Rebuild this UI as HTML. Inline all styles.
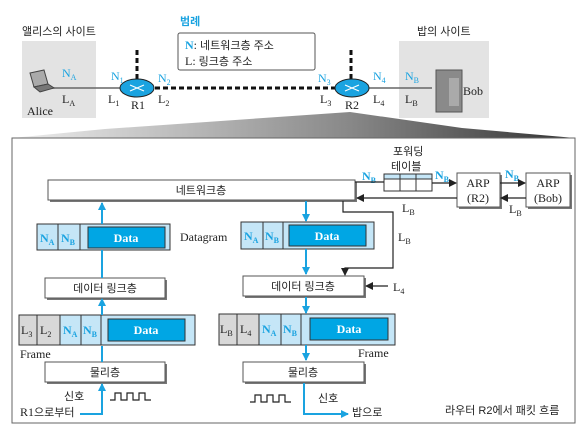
<!DOCTYPE html>
<html><head><meta charset="utf-8"><style>
body{margin:0;background:#fff}
svg{display:block}
text{font-family:"Liberation Serif","Noto Serif CJK SC","Noto Sans CJK KR",serif;font-size:12px;fill:#222}
.k{font-family:"Liberation Sans","Noto Sans CJK KR",sans-serif;font-size:11px}
.b{fill:#1aa3e0}
.bd{font-weight:bold;fill:#1aa3e0}
.s{font-size:8px}
</style></head><body>
<svg width="585" height="436" viewBox="0 0 585 436" xmlns="http://www.w3.org/2000/svg">
<defs>
<linearGradient id="g" x1="0" x2="1" y1="0" y2="0"><stop offset="0" stop-color="#eee"/><stop offset="0.6" stop-color="#888"/><stop offset="1" stop-color="#333"/></linearGradient>
<marker id="ab" markerWidth="8" markerHeight="8" refX="7" refY="4" orient="auto" markerUnits="userSpaceOnUse"><path d="M0,0L8,4L0,8z" fill="#1aa3e0"/></marker>
<marker id="ak" markerWidth="8" markerHeight="8" refX="7" refY="4" orient="auto" markerUnits="userSpaceOnUse"><path d="M0,0L8,4L0,8z" fill="#222"/></marker>
</defs>
<rect x="22" y="41" width="74" height="77" fill="#e3e3e3"/>
<rect x="399" y="41" width="90" height="77" fill="#e3e3e3"/>
<text x="22" y="35" class="k">앨리스의 사이트</text>
<text x="417" y="35" class="k">밥의 사이트</text>
<text x="180" y="25" class="k" style="fill:#1aa3e0;font-weight:bold">범례</text>
<rect x="178" y="33" width="137" height="37" fill="#fff" stroke="#555" rx="2"/>
<text x="185" y="49"><tspan class="bd">N</tspan>: <tspan class="k">네트워크층 주소</tspan></text>
<text x="185" y="65">L: <tspan class="k">링크층 주소</tspan></text>
<line x1="50" y1="88" x2="122" y2="88" stroke="#666" stroke-width="1.5"/>
<line x1="368" y1="88" x2="432" y2="88" stroke="#666" stroke-width="1.5"/>
<line x1="155" y1="88" x2="335" y2="88" stroke="#111" stroke-width="3" stroke-dasharray="5,3"/>
<line x1="137" y1="50" x2="137" y2="80" stroke="#111" stroke-width="3" stroke-dasharray="5,3"/>
<line x1="351" y1="50" x2="351" y2="80" stroke="#111" stroke-width="3" stroke-dasharray="5,3"/>
<ellipse cx="137" cy="88" rx="17" ry="9" fill="#1aa3e0" stroke="#222"/>
<ellipse cx="352" cy="88" rx="17" ry="9" fill="#1aa3e0" stroke="#222"/>
<path d="M130,85l14,6M144,85l-14,6M345,85l14,6M359,85l-14,6" stroke="#fff" stroke-width="1.2"/>
<path d="M30,73l14,-3l4,14l-14,3z" fill="#aaa" stroke="#444"/>
<path d="M34,87l14,-3l6,4l-14,4z" fill="#777" stroke="#444"/>
<rect x="436" y="70" width="26" height="42" fill="#8a8a8a" stroke="#555"/>
<rect x="449" y="78" width="10" height="28" fill="#aaa"/>
<text x="27" y="115">Alice</text>
<text x="463" y="95">Bob</text>
<text x="62" y="77" class="b">N<tspan class="s" dy="3">A</tspan></text>
<text x="62" y="103">L<tspan class="s" dy="3">A</tspan></text>
<text x="111" y="80" class="b">N<tspan class="s" dy="3">1</tspan></text>
<text x="108" y="103">L<tspan class="s" dy="3">1</tspan></text>
<text x="131" y="109">R1</text>
<text x="158" y="82" class="b">N<tspan class="s" dy="3">2</tspan></text>
<text x="158" y="103">L<tspan class="s" dy="3">2</tspan></text>
<text x="318" y="82" class="b">N<tspan class="s" dy="3">3</tspan></text>
<text x="320" y="103">L<tspan class="s" dy="3">3</tspan></text>
<text x="345" y="109">R2</text>
<text x="373" y="80" class="b">N<tspan class="s" dy="3">4</tspan></text>
<text x="373" y="103">L<tspan class="s" dy="3">4</tspan></text>
<text x="405" y="80" class="b">N<tspan class="s" dy="3">B</tspan></text>
<text x="405" y="103">L<tspan class="s" dy="3">B</tspan></text>
<polygon points="350,112 105,129 12,138 575,138 462,128" fill="url(#g)"/>
<rect x="12" y="138" width="563" height="285" fill="#fff" stroke="#666"/>
<g stroke="#555" fill="#fff">
<rect x="50" y="182" width="307" height="20" fill="#777" stroke="none"/>
<rect x="48" y="180" width="307" height="20"/>
<rect x="47" y="280" width="120" height="20" fill="#777" stroke="none"/>
<rect x="45" y="278" width="120" height="20"/>
<rect x="245" y="278" width="121" height="20" fill="#777" stroke="none"/>
<rect x="243" y="276" width="121" height="20"/>
<rect x="47" y="364" width="120" height="20" fill="#777" stroke="none"/>
<rect x="45" y="362" width="120" height="20"/>
<rect x="245" y="364" width="121" height="20" fill="#777" stroke="none"/>
<rect x="243" y="362" width="121" height="20"/>
<rect x="459" y="175" width="43" height="34" fill="#777" stroke="none"/>
<rect x="457" y="173" width="43" height="34"/>
<rect x="528" y="175" width="44" height="34" fill="#777" stroke="none"/>
<rect x="526" y="173" width="44" height="34"/>
</g>
<text x="201" y="194" class="k" text-anchor="middle">네트워크층</text>
<text x="105" y="292" class="k" text-anchor="middle">데이터 링크층</text>
<text x="303" y="290" class="k" text-anchor="middle">데이터 링크층</text>
<text x="105" y="376" class="k" text-anchor="middle">물리층</text>
<text x="303" y="376" class="k" text-anchor="middle">물리층</text>
<text x="478" y="187" text-anchor="middle">ARP</text><text x="478" y="202" text-anchor="middle">(R2)</text>
<text x="548" y="187" text-anchor="middle">ARP</text><text x="548" y="202" text-anchor="middle">(Bob)</text>
<g stroke="#333">
<rect x="37" y="224" width="133" height="26" fill="#c5e6f7"/>
<line x1="58" y1="224" x2="58" y2="250"/><line x1="80" y1="224" x2="80" y2="250"/>
<rect x="88" y="227" width="77" height="21" fill="#00a6e4"/>
<rect x="241" y="222" width="133" height="27" fill="#c5e6f7"/>
<line x1="263" y1="222" x2="263" y2="249"/><line x1="283" y1="222" x2="283" y2="249"/>
<rect x="289" y="225" width="77" height="21" fill="#00a6e4"/>
<rect x="19" y="315" width="176" height="30" fill="#c5e6f7"/>
<rect x="19" y="315" width="41" height="30" fill="#d8d8d8"/>
<line x1="37" y1="315" x2="37" y2="345"/><line x1="81" y1="315" x2="81" y2="345"/><line x1="101" y1="315" x2="101" y2="345"/>
<rect x="108" y="319" width="77" height="22" fill="#00a6e4"/>
<rect x="219" y="314" width="176" height="31" fill="#c5e6f7"/>
<rect x="219" y="314" width="40" height="31" fill="#d8d8d8"/>
<line x1="237" y1="314" x2="237" y2="345"/><line x1="281" y1="314" x2="281" y2="345"/><line x1="301" y1="314" x2="301" y2="345"/>
<rect x="310" y="318" width="78" height="22" fill="#00a6e4"/>
<rect x="384" y="174" width="48" height="17" fill="#fff"/>
<rect x="384" y="174" width="48" height="5" fill="#c5e6f7"/>
<line x1="400" y1="174" x2="400" y2="191"/><line x1="416" y1="174" x2="416" y2="191"/>
</g>
<g style="font-weight:bold" text-anchor="middle">
<text x="126" y="242" style="fill:#fff">Data</text>
<text x="327" y="240" style="fill:#fff">Data</text>
<text x="146" y="334" style="fill:#fff">Data</text>
<text x="349" y="333" style="fill:#fff">Data</text>
</g>
<g>
<text x="40" y="242" class="b" style="font-weight:bold">N<tspan class="s" dy="3">A</tspan></text>
<text x="61" y="242" class="b" style="font-weight:bold">N<tspan class="s" dy="3">B</tspan></text>
<text x="244" y="240" class="b" style="font-weight:bold">N<tspan class="s" dy="3">A</tspan></text>
<text x="265" y="240" class="b" style="font-weight:bold">N<tspan class="s" dy="3">B</tspan></text>
<text x="63" y="334" class="b" style="font-weight:bold">N<tspan class="s" dy="3">A</tspan></text>
<text x="83" y="334" class="b" style="font-weight:bold">N<tspan class="s" dy="3">B</tspan></text>
<text x="262" y="333" class="b" style="font-weight:bold">N<tspan class="s" dy="3">A</tspan></text>
<text x="283" y="333" class="b" style="font-weight:bold">N<tspan class="s" dy="3">B</tspan></text>
<text x="362" y="180" class="b" style="font-weight:bold">N<tspan class="s" dy="3">B</tspan></text>
<text x="435" y="179" class="b" style="font-weight:bold">N<tspan class="s" dy="3">B</tspan></text>
<text x="505" y="178" class="b" style="font-weight:bold">N<tspan class="s" dy="3">B</tspan></text>
</g>
<text x="21" y="334">L<tspan class="s" dy="3">3</tspan></text>
<text x="40" y="334">L<tspan class="s" dy="3">2</tspan></text>
<text x="220" y="333">L<tspan class="s" dy="3">B</tspan></text>
<text x="240" y="333">L<tspan class="s" dy="3">4</tspan></text>
<text x="180" y="241">Datagram</text>
<text x="20" y="358">Frame</text>
<text x="358" y="357">Frame</text>
<text x="393" y="155" class="k">포워딩</text>
<text x="391" y="170" class="k">테이블</text>
<text x="402" y="212">L<tspan class="s" dy="3">B</tspan></text>
<text x="509" y="213">L<tspan class="s" dy="3">B</tspan></text>
<text x="398" y="241">L<tspan class="s" dy="3">B</tspan></text>
<text x="393" y="291">L<tspan class="s" dy="3">4</tspan></text>
<text x="64" y="400" class="k">신호</text>
<text x="318" y="402" class="k">신호</text>
<text x="20" y="416">R1<tspan class="k">으로부터</tspan></text>
<text x="352" y="416" class="k">밥으로</text>
<text x="445" y="414" class="k">라우터 R2에서 패킷 흐름</text>
<g stroke="#1aa3e0" stroke-width="2" fill="none">
<path d="M102,224V203" marker-end="url(#ab)"/>
<path d="M102,278V250"/>
<path d="M102,315V299" marker-end="url(#ab)"/>
<path d="M102,362V346"/>
<path d="M80,414H102V384" marker-end="url(#ab)"/>
<path d="M306,201V221" marker-end="url(#ab)"/>
<path d="M306,249V274" marker-end="url(#ab)"/>
<path d="M306,297V313" marker-end="url(#ab)"/>
<path d="M306,345V360" marker-end="url(#ab)"/>
<path d="M304,383V414H348" marker-end="url(#ab)"/>
</g>
<g stroke="#222" stroke-width="1.2" fill="none">
<path d="M355,182H384"/>
<path d="M432,183H456" marker-end="url(#ak)"/>
<path d="M500,183H525" marker-end="url(#ak)"/>
<path d="M526,198H501" marker-end="url(#ak)"/>
<path d="M457,198H357" marker-end="url(#ak)"/>
<path d="M343,201V212H393V268H345V275" marker-end="url(#ak)"/>
<path d="M388,286H366" marker-end="url(#ak)"/>
<path d="M110,400h5v-7h6v7h6v-7h6v7h6v-7h6v7h6" />
<path d="M250,402h5v-7h6v7h6v-7h6v7h6v-7h6v7h6" />
</g>
</svg>
</body></html>
